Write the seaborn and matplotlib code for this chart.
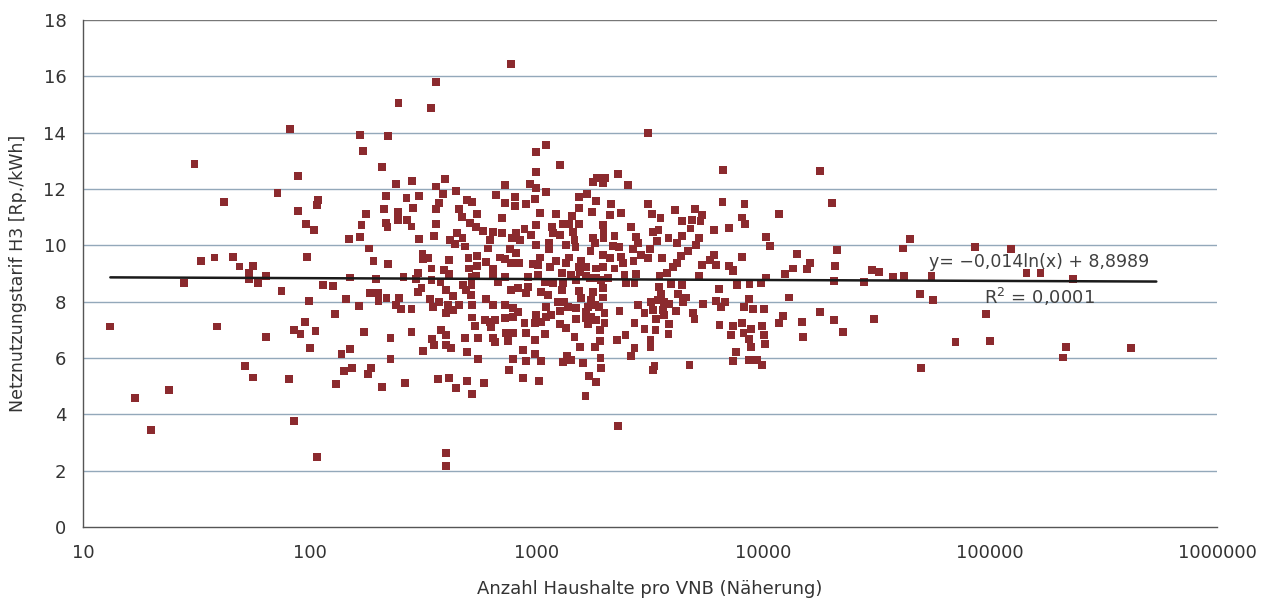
import numpy as np
import pandas as pd
import matplotlib
matplotlib.use("Agg")
import matplotlib.pyplot as plt
import seaborn as sns
from matplotlib.ticker import FixedLocator, FixedFormatter, NullLocator

# ---------------- data ----------------
households = [
    82, 31, 89, 72, 42, 109, 108, 89, 96, 104,
    33, 38, 46, 49, 56, 54, 54, 59, 64, 28,
    75, 97, 99, 13.2, 39, 64, 85, 91, 95, 106,
    100, 52, 56, 81, 17, 24, 20, 85, 108,
    361, 246, 342, 167, 222, 172, 208, 240, 283, 360,
    393, 443, 217, 267, 303, 385, 370, 495, 521, 177,
    212, 244, 284, 359, 453, 469, 546, 169, 216, 220,
    245, 269, 281, 359, 508, 542, 149, 166, 302, 352,
    414, 447, 471, 438, 482, 182, 314, 332, 316, 191,
    221, 412, 501, 546, 344, 392, 411, 505, 548,
    150, 195, 259, 301, 295, 344, 377, 516, 542, 114,
    127, 184, 200, 201, 218, 144, 165, 239, 247, 252,
    281, 300, 311, 340, 349, 371, 400, 428, 407, 400,
    428, 455, 474, 487, 516, 512, 521, 521, 535, 129,
    174, 227, 281, 378, 347, 352, 397, 400, 418, 482,
    551, 138, 151, 316, 492, 227, 551, 142, 153, 186,
    181, 131, 208, 262, 367, 412, 440, 492, 519, 398,
    400,
    774, 1104, 990, 1263, 990, 2280, 723, 938, 997, 1096,
    1770, 1850, 2010, 1970, 2540, 664, 800, 723, 800, 901,
    987, 1536, 1665, 1820, 1536, 2134, 703, 1038, 1213, 1436,
    1760, 2100, 2360, 2610, 990, 1173, 1306, 1397, 1536, 1960,
    1973, 1973, 580, 641, 705, 621, 814, 842, 778, 885,
    948, 1180, 1263, 1445, 1470, 1770, 1802, 2206, 2750, 2790,
    997, 1133, 1133, 1351, 1485, 610, 766, 1729, 2168, 2305,
    2656, 600, 687, 723, 774, 836, 814, 963, 1031, 1013,
    1213, 1141, 1388, 1342, 1574, 1536, 1655, 1833, 1960, 1960,
    2098, 2360, 2400, 2206, 2675, 641,
    641, 723, 916, 1013, 1298, 1422, 1547, 1655, 1833, 2060,
    2440, 2750, 675, 1085, 1180, 1306, 1496, 1711, 1928, 2484,
    2703, 774, 827, 901, 916, 1049, 1121, 1298, 1536, 1770,
    1960, 1960, 600, 1574, 1742, 641, 723, 787, 827, 1104,
    1241, 1328, 1374, 1263, 1496, 1682, 1802, 1881, 1993, 1655,
    2321, 2793, 590, 621, 653, 723, 787, 885, 997, 980,
    1049, 1104, 1161, 1263, 1351, 1496, 1655, 1742, 1833, 1993,
    1896, 631, 2703, 641, 653, 736, 787, 748, 901, 980,
    1085, 1470, 1682, 1896, 2258, 2466, 871, 1547, 1802, 2703,
    2613, 787, 901, 980, 1049, 1306, 1360, 1422, 1600, 1914,
    1928, 755, 1700, 1820, 871, 1024, 586, 1644, 2280,
    3090, 6620, 3090, 4080, 5000, 6600, 8250, 11760, 3230, 3520,
    4385, 4830, 5280, 5370, 8020, 8330, 3250, 3446, 4770, 6080,
    7030, 3390, 3815, 4385, 4170, 5190, 5050, 10280, 10700, 3150,
    3090, 2890, 3580, 4640, 4340, 4150, 3985, 6080, 5840, 6190,
    5350, 8020, 7080, 7380, 14020, 13560, 12500,
    3480, 3765, 5220, 7325, 10280, 3460, 3920, 4385, 7630, 8680,
    9770, 6355, 4190, 4566, 4410, 3540, 3200, 3420, 3660, 3850,
    5400, 6190, 6800, 6510, 8616, 8190, 8970, 10100, 13020, 2990,
    3250, 3600, 4100, 3660, 4880, 4970, 3370, 3830, 12250, 11760,
    2990, 3344, 3815, 6400, 7325, 8050, 7205, 8166, 8826, 8616,
    9830, 10100, 10200, 3180, 3180, 8826, 7585, 7325, 8676, 9380,
    9830, 3310, 3250, 4720,
    17820, 19990, 44420, 41090, 21030, 85900, 16060, 15580, 20700, 29990,
    32210, 20540, 27860, 37130, 41500, 55100, 49000, 56100, 17830, 14750,
    20540, 30830, 95730, 22510, 14900, 70310, 99700, 49500,
    123400, 144500, 166600, 232000, 215500, 210300, 419000,
]

tariff = [
    14.12, 12.88, 12.45, 11.85, 11.53, 11.61, 11.42, 11.22, 10.77, 10.54,
    9.44, 9.57, 9.60, 9.25, 9.28, 9.01, 8.80, 8.67, 8.92, 8.67,
    8.39, 9.60, 8.02, 7.12, 7.12, 6.74, 6.99, 6.84, 7.28, 6.97,
    6.34, 5.72, 5.31, 5.24, 4.57, 4.86, 3.43, 3.76, 2.48,
    15.81, 15.04, 14.88, 13.93, 13.89, 13.34, 12.79, 12.17, 12.27, 12.09,
    12.35, 11.94, 11.76, 11.67, 11.75, 11.83, 11.50, 11.61, 11.55, 11.11,
    11.29, 11.19, 11.33, 11.29, 11.28, 11.02, 11.10, 10.71, 10.79, 10.66,
    10.89, 10.89, 10.67, 10.76, 10.78, 10.64, 10.21, 10.29, 10.22, 10.33,
    10.19, 10.44, 10.25, 10.05, 9.96, 9.89, 9.68, 9.56, 9.50, 9.43,
    9.33, 9.47, 9.54, 9.62, 9.18, 9.12, 8.97, 9.18, 9.27,
    8.86, 8.79, 8.89, 9.03, 8.79, 8.77, 8.71, 8.89, 8.91, 8.59,
    8.56, 8.32, 8.32, 8.03, 8.12, 8.08, 7.85, 7.88, 8.12, 7.73,
    7.73, 8.35, 8.47, 8.08, 7.82, 8.00, 8.41, 8.20, 7.88, 7.61,
    7.70, 7.88, 8.59, 8.41, 8.59, 8.24, 7.88, 7.44, 7.14, 7.55,
    6.92, 6.71, 6.91, 6.99, 6.68, 6.45, 6.81, 6.46, 6.34, 6.70,
    6.70, 6.13, 6.32, 6.26, 6.21, 5.95, 5.95, 5.55, 5.64, 5.66,
    5.44, 5.07, 4.96, 5.11, 5.24, 5.30, 4.93, 5.19, 4.73, 2.64,
    2.18,
    16.43, 13.55, 13.32, 12.85, 12.59, 12.53, 12.14, 12.17, 12.05, 11.88,
    12.24, 12.38, 12.40, 12.20, 12.13, 11.79, 11.73, 11.51, 11.40, 11.47,
    11.63, 11.73, 11.82, 11.57, 11.33, 11.47, 10.96, 11.16, 11.11, 11.04,
    11.17, 11.08, 11.16, 10.66, 10.72, 10.66, 10.76, 10.76, 10.76, 10.72,
    10.48, 10.25, 10.52, 10.48, 10.43, 10.19, 10.43, 10.19, 10.25, 10.57,
    10.37, 10.43, 10.37, 10.48, 10.19, 10.25, 10.09, 10.33, 10.31, 10.09,
    10.01, 10.09, 9.86, 10.01, 9.95, 9.89, 9.86, 9.81, 9.98, 9.95,
    9.86, 9.42, 9.57, 9.50, 9.38, 9.38, 9.72, 9.33, 9.57, 9.30,
    9.45, 9.24, 9.57, 9.36, 9.45, 9.24, 9.22, 9.18, 9.24, 9.66,
    9.54, 9.60, 9.36, 9.18, 9.45, 9.18,
    8.91, 8.89, 8.89, 8.95, 9.03, 8.95, 9.06, 8.91, 8.83, 8.83,
    8.95, 8.98, 8.71, 8.71, 8.65, 8.65, 8.77, 8.83, 8.77, 8.65,
    8.65, 8.41, 8.47, 8.30, 8.53, 8.35, 8.24, 8.41, 8.39, 8.35,
    8.47, 8.15, 8.08, 8.12, 8.06, 7.88, 7.88, 7.76, 7.64, 7.82,
    8.00, 8.00, 7.82, 7.68, 7.76, 7.82, 7.88, 7.80, 7.61, 7.64,
    7.68, 7.88, 7.35, 7.29, 7.35, 7.41, 7.47, 7.25, 7.53, 7.23,
    7.29, 7.47, 7.53, 7.21, 7.05, 7.37, 7.41, 7.47, 7.35, 7.23,
    6.99, 7.11, 7.23, 6.72, 6.56, 6.88, 6.90, 6.60, 6.88, 6.64,
    6.84, 6.76, 7.20, 6.61, 6.64, 6.82, 6.28, 6.40, 6.38, 6.34,
    6.07, 5.95, 5.90, 6.13, 5.90, 5.87, 6.07, 5.93, 5.81, 5.99,
    5.66, 5.57, 5.36, 5.14, 5.28, 5.18, 5.10, 4.65, 3.59,
    14.00, 12.67, 11.47, 11.25, 11.29, 11.53, 11.47, 11.10, 11.11, 10.96,
    10.86, 10.90, 10.87, 11.08, 10.99, 10.75, 10.48, 10.54, 10.60, 10.53,
    10.62, 10.15, 10.25, 10.33, 10.07, 10.25, 10.01, 10.31, 9.99, 9.86,
    9.54, 9.66, 9.56, 9.81, 9.62, 9.38, 9.24, 9.66, 9.48, 9.30,
    9.31, 9.60, 9.27, 9.12, 9.69, 9.18, 8.97,
    8.91, 9.01, 8.92, 9.09, 8.86, 8.51, 8.63, 8.59, 8.59, 8.63,
    8.67, 8.44, 8.27, 8.15, 7.98, 8.27, 8.00, 8.06, 8.00, 7.92,
    7.92, 8.02, 7.98, 7.82, 8.08, 7.82, 7.74, 7.73, 8.15, 7.59,
    7.70, 7.70, 7.68, 7.53, 7.59, 7.37, 7.37, 7.21, 7.50, 7.25,
    7.02, 6.99, 6.84, 7.16, 7.14, 7.25, 6.82, 6.90, 7.02, 6.67,
    7.14, 6.81, 6.50, 6.64, 6.38, 6.38, 6.22, 5.90, 5.93, 5.93,
    5.75, 5.72, 5.57, 5.75,
    12.65, 11.51, 10.22, 9.89, 9.83, 9.93, 9.38, 9.15, 9.28, 9.12,
    9.05, 8.74, 8.71, 8.89, 8.91, 8.91, 8.27, 8.06, 7.64, 7.29,
    7.35, 7.37, 7.55, 6.91, 6.76, 6.56, 6.60, 5.63,
    9.86, 9.03, 9.03, 8.80, 6.40, 6.02, 6.34,
]

# logarithmic trend line printed on the chart: y = -0.014 ln(x) + 8.8989
trend_slope = -0.014
trend_intercept = 8.8989
trend_x_end = 5.4e5
trend_label = "y= \u22120,014ln(x) + 8,8989"
r2_label = "R$^2$ = 0,0001"

x_ticks = [10, 100, 1000, 10000, 100000, 1000000]
x_tick_labels = ["10", "100", "1000", "10000", "100000", "1000000"]
y_ticks = [0, 2, 4, 6, 8, 10, 12, 14, 16, 18]

x_label = "Anzahl Haushalte pro VNB (Näherung)"
y_label = "Netznutzungstarif H3 [Rp./kWh]"

df = pd.DataFrame({"households": households, "tariff": tariff})

# ---------------- styling ----------------
sns.set_theme(style="white")
plt.rcParams["font.family"] = ["DejaVu Sans"]
plt.rcParams["mathtext.fontset"] = "dejavusans"

text_col = "#333333"
axis_col = "#555555"
grid_col = "#93a8ba"
marker_col = "#8b2a2e"

fig = plt.figure(figsize=(12.64, 5.99), dpi=100)
ax = fig.add_axes([83 / 1264, 1 - 527 / 599, (1217 - 83) / 1264, (527 - 20) / 599])

ax.set_xscale("log")
ax.set_xlim(10, 1e6)
ax.set_ylim(0, 18)

for yv in y_ticks[1:]:
    ax.axhline(yv, color=grid_col if yv < 18 else "#777777", lw=1.0, zorder=0)

sns.scatterplot(data=df, x="households", y="tariff", marker="s", s=32,
                color=marker_col, edgecolor="none", linewidth=0, ax=ax,
                zorder=3, legend=False)

tx = np.geomspace(min(households), trend_x_end, 200)
ty = trend_slope * np.log(tx) + trend_intercept
ax.plot(tx, ty, color="#1a1a1a", lw=1.8, zorder=4)

ax.text(5.38e4, 9.41, trend_label, fontsize=12.5, color="#404040",
        va="center", ha="left", zorder=5)
ax.text(9.4e4, 8.16, r2_label, fontsize=13, color="#404040",
        va="center", ha="left", zorder=5)

ax.xaxis.set_major_locator(FixedLocator(x_ticks))
ax.xaxis.set_major_formatter(FixedFormatter(x_tick_labels))
ax.xaxis.set_minor_locator(NullLocator())
ax.set_yticks(y_ticks)
ax.set_yticklabels([str(v) for v in y_ticks])

ax.tick_params(axis="x", direction="out", length=6, width=1, color=axis_col,
               labelsize=13, labelcolor=text_col, pad=6)
ax.tick_params(axis="y", direction="out", length=5, width=1, color=axis_col,
               labelsize=13, labelcolor=text_col, pad=7)

for side in ["top", "right"]:
    ax.spines[side].set_visible(False)
for side in ["left", "bottom"]:
    ax.spines[side].set_color(axis_col)
    ax.spines[side].set_linewidth(1.0)

ax.set_xlabel(x_label, fontsize=13, color=text_col, labelpad=13)
ax.set_ylabel(y_label, fontsize=12.5, color=text_col, labelpad=12)

fig.savefig("out.png", dpi=100, facecolor="white")
